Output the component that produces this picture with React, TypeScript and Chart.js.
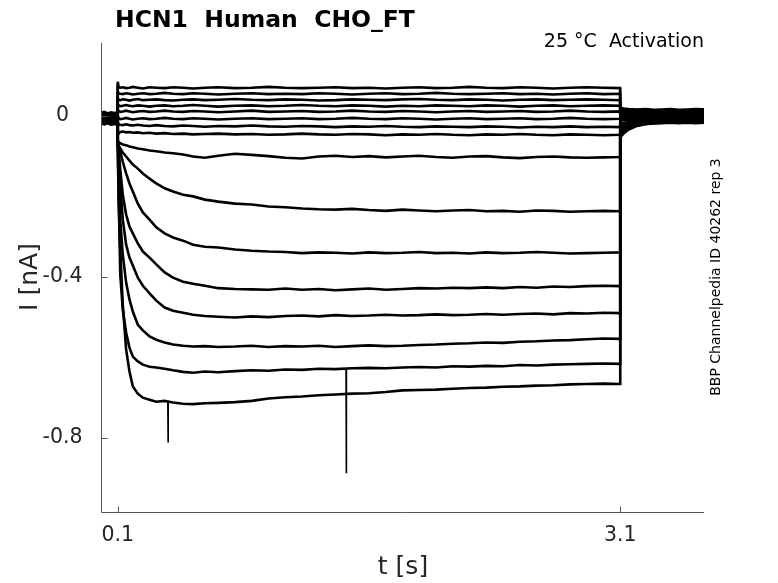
import React, { useEffect, useRef } from 'react';
import { Chart, registerables } from 'chart.js';
Chart.register(...registerables);

// ---- axes ----
const X_MIN = 0;
const X_MAX = 3.6;
const Y_MIN = -0.984;
const Y_MAX = 0.181;
const X_TICKS = [0.1, 3.1];
const X_TICK_LABELS = ['0.1', '3.1'];
const Y_TICKS = [-0.8, -0.4, 0];
const Y_TICK_LABELS = ['-0.8', '-0.4', '0'];

const TITLE = 'HCN1  Human  CHO_FT';
const SUBTITLE = '25 \u00B0C  Activation';
const SIDE_NOTE = 'BBP Channelpedia ID 40262 rep 3';
const X_LABEL = 't [s]';
const Y_LABEL = 'I [nA]';

// ---- time bases (s) ----
const T_PRE = [0, 0.02, 0.04, 0.06, 0.08, 0.099];
const T_STEP = [
  0.1, 0.105, 0.115, 0.13, 0.15, 0.17, 0.19, 0.22, 0.25, 0.29,
  0.33, 0.38, 0.43, 0.49, 0.55, 0.62, 0.7, 0.8, 0.9, 1.0,
  1.1, 1.2, 1.3, 1.4, 1.5, 1.6, 1.7, 1.8, 1.9, 2.0,
  2.1, 2.2, 2.3, 2.4, 2.5, 2.6, 2.7, 2.8, 2.9, 3.0,
  3.099,
];
const T_TAIL = [3.1, 3.12, 3.15, 3.2, 3.25, 3.3, 3.35, 3.4, 3.45, 3.5, 3.55, 3.6];

// ---- current traces (nA) ----
const U1_PRE = [0.008, 0.010, 0.006, 0.009, 0.007, 0.008];
const U1_STEP = [
  0.085, 0.072, 0.070, 0.071, 0.069, 0.070, 0.072, 0.070, 0.068, 0.071,
  0.070, 0.069, 0.071, 0.070, 0.068, 0.070, 0.071, 0.069, 0.070, 0.072,
  0.070, 0.069, 0.070, 0.071, 0.069, 0.070, 0.068, 0.070, 0.071, 0.069,
  0.070, 0.072, 0.070, 0.069, 0.071, 0.070, 0.068, 0.070, 0.071, 0.070,
  0.069,
];
const U1_TAIL = [0.020, 0.018, 0.017, 0.016, 0.017, 0.015, 0.016, 0.017, 0.015, 0.016, 0.017, 0.016];

const U2_PRE = [0.004, 0.006, 0.003, 0.005, 0.004, 0.005];
const U2_STEP = [
  0.062, 0.056, 0.055, 0.054, 0.056, 0.055, 0.053, 0.055, 0.056, 0.054,
  0.055, 0.057, 0.055, 0.054, 0.056, 0.055, 0.053, 0.055, 0.056, 0.054,
  0.055, 0.054, 0.056, 0.055, 0.053, 0.055, 0.056, 0.054, 0.055, 0.057,
  0.055, 0.054, 0.055, 0.056, 0.054, 0.055, 0.053, 0.055, 0.056, 0.054,
  0.055,
];
const U2_TAIL = [0.016, 0.014, 0.013, 0.012, 0.013, 0.012, 0.011, 0.012, 0.013, 0.011, 0.012, 0.012];

const U3_PRE = [0.002, 0.000, 0.003, 0.001, 0.002, 0.001];
const U3_STEP = [
  0.045, 0.040, 0.039, 0.041, 0.040, 0.038, 0.040, 0.042, 0.039, 0.040,
  0.041, 0.039, 0.038, 0.040, 0.041, 0.039, 0.040, 0.042, 0.040, 0.039,
  0.041, 0.040, 0.038, 0.039, 0.041, 0.040, 0.039, 0.041, 0.042, 0.040,
  0.039, 0.041, 0.040, 0.038, 0.040, 0.041, 0.039, 0.040, 0.041, 0.040,
  0.039,
];
const U3_TAIL = [0.012, 0.010, 0.009, 0.009, 0.008, 0.009, 0.008, 0.007, 0.009, 0.008, 0.008, 0.009];

const U4_PRE = [-0.002, 0.000, -0.003, -0.001, -0.002, -0.001];
const U4_STEP = [
  0.030, 0.026, 0.024, 0.025, 0.027, 0.025, 0.024, 0.026, 0.025, 0.023,
  0.025, 0.026, 0.024, 0.025, 0.027, 0.025, 0.023, 0.025, 0.026, 0.024,
  0.025, 0.027, 0.025, 0.024, 0.026, 0.025, 0.023, 0.025, 0.024, 0.026,
  0.025, 0.024, 0.026, 0.025, 0.023, 0.025, 0.026, 0.024, 0.025, 0.026,
  0.025,
];
const U4_TAIL = [0.008, 0.007, 0.006, 0.005, 0.006, 0.004, 0.005, 0.006, 0.004, 0.005, 0.004, 0.005];

const U5_PRE = [-0.004, -0.006, -0.003, -0.005, -0.004, -0.005];
const U5_STEP = [
  0.016, 0.012, 0.010, 0.011, 0.013, 0.011, 0.009, 0.011, 0.012, 0.010,
  0.011, 0.013, 0.011, 0.010, 0.012, 0.011, 0.009, 0.011, 0.013, 0.010,
  0.011, 0.012, 0.010, 0.011, 0.013, 0.011, 0.010, 0.012, 0.011, 0.009,
  0.011, 0.012, 0.010, 0.011, 0.012, 0.010, 0.011, 0.013, 0.011, 0.010,
  0.011,
];
const U5_TAIL = [0.004, 0.003, 0.002, 0.002, 0.001, 0.002, 0.001, 0.002, 0.000, 0.001, 0.002, 0.001];

const U6_PRE = [-0.007, -0.005, -0.008, -0.006, -0.007, -0.006];
const U6_STEP = [
  0.000, -0.006, -0.008, -0.007, -0.005, -0.007, -0.009, -0.007, -0.006, -0.008,
  -0.007, -0.005, -0.007, -0.008, -0.006, -0.007, -0.009, -0.007, -0.006, -0.008,
  -0.007, -0.006, -0.008, -0.007, -0.005, -0.007, -0.008, -0.006, -0.007, -0.009,
  -0.007, -0.006, -0.008, -0.007, -0.006, -0.008, -0.007, -0.005, -0.007, -0.008,
  -0.007,
];
const U6_TAIL = [0.000, -0.001, -0.002, -0.002, -0.001, -0.002, -0.003, -0.002, -0.001, -0.002, -0.003, -0.002];

const U7_PRE = [-0.010, -0.012, -0.009, -0.011, -0.010, -0.011];
const U7_STEP = [
  -0.015, -0.021, -0.022, -0.023, -0.021, -0.023, -0.024, -0.022, -0.024, -0.025,
  -0.023, -0.025, -0.026, -0.024, -0.025, -0.027, -0.025, -0.026, -0.024, -0.026,
  -0.027, -0.025, -0.026, -0.028, -0.026, -0.027, -0.025, -0.027, -0.028, -0.026,
  -0.027, -0.028, -0.026, -0.027, -0.029, -0.027, -0.028, -0.026, -0.028, -0.027,
  -0.028,
];
const U7_TAIL = [-0.006, -0.006, -0.005, -0.005, -0.006, -0.004, -0.005, -0.006, -0.004, -0.005, -0.006, -0.005];

const U8_PRE = [-0.012, -0.014, -0.011, -0.013, -0.015, -0.013];
const U8_STEP = [
  -0.040, -0.044, -0.040, -0.039, -0.041, -0.040, -0.042, -0.041, -0.043, -0.042,
  -0.044, -0.043, -0.045, -0.044, -0.046, -0.045, -0.044, -0.046, -0.045, -0.047,
  -0.046, -0.044, -0.046, -0.047, -0.045, -0.046, -0.048, -0.046, -0.047, -0.045,
  -0.047, -0.048, -0.046, -0.047, -0.045, -0.047, -0.048, -0.046, -0.047, -0.048,
  -0.047,
];
const U8_TAIL = [-0.012, -0.011, -0.010, -0.009, -0.008, -0.009, -0.008, -0.007, -0.008, -0.007, -0.008, -0.008];

const L1_PRE = [-0.014, -0.016, -0.013, -0.017, -0.015, -0.016];
const L1_STEP = [
  -0.060, -0.066, -0.068, -0.071, -0.073, -0.076, -0.078, -0.081, -0.083, -0.086,
  -0.088, -0.091, -0.093, -0.096, -0.101, -0.104, -0.099, -0.094, -0.097, -0.100,
  -0.104, -0.106, -0.101, -0.099, -0.102, -0.100, -0.103, -0.101, -0.099, -0.102,
  -0.104, -0.101, -0.100, -0.103, -0.105, -0.102, -0.101, -0.103, -0.104, -0.103,
  -0.102,
];
const L1_TAIL = [-0.020, -0.018, -0.015, -0.013, -0.011, -0.010, -0.011, -0.009, -0.010, -0.009, -0.010, -0.009];

const L2_PRE = [-0.016, -0.018, -0.015, -0.019, -0.017, -0.018];
const L2_STEP = [
  -0.062, -0.074, -0.081, -0.091, -0.101, -0.111, -0.121, -0.131, -0.143, -0.156,
  -0.168, -0.180, -0.188, -0.196, -0.200, -0.208, -0.213, -0.218, -0.220, -0.225,
  -0.227, -0.230, -0.232, -0.233, -0.231, -0.234, -0.236, -0.233, -0.235, -0.237,
  -0.235, -0.234, -0.237, -0.236, -0.238, -0.235, -0.236, -0.238, -0.237, -0.236,
  -0.237,
];
const L2_TAIL = [-0.026, -0.023, -0.019, -0.016, -0.013, -0.012, -0.011, -0.012, -0.010, -0.011, -0.012, -0.011];

const L3_PRE = [-0.018, -0.020, -0.017, -0.021, -0.019, -0.020];
const L3_STEP = [
  -0.063, -0.074, -0.089, -0.114, -0.143, -0.168, -0.188, -0.218, -0.240, -0.258,
  -0.277, -0.292, -0.302, -0.310, -0.320, -0.325, -0.327, -0.332, -0.335, -0.337,
  -0.338, -0.341, -0.339, -0.340, -0.342, -0.339, -0.341, -0.340, -0.338, -0.341,
  -0.340, -0.342, -0.339, -0.341, -0.340, -0.338, -0.340, -0.342, -0.341, -0.340,
  -0.339,
];
const L3_TAIL = [-0.032, -0.028, -0.023, -0.018, -0.015, -0.013, -0.014, -0.012, -0.013, -0.012, -0.013, -0.012];

const L4_PRE = [-0.019, -0.021, -0.018, -0.022, -0.020, -0.021];
const L4_STEP = [
  -0.064, -0.084, -0.133, -0.196, -0.245, -0.275, -0.292, -0.317, -0.337, -0.352,
  -0.369, -0.389, -0.402, -0.412, -0.417, -0.422, -0.428, -0.430, -0.431, -0.432,
  -0.429, -0.432, -0.430, -0.433, -0.431, -0.429, -0.432, -0.430, -0.428, -0.429,
  -0.427, -0.428, -0.426, -0.428, -0.425, -0.427, -0.424, -0.425, -0.423, -0.422,
  -0.423,
];
const L4_TAIL = [-0.037, -0.032, -0.026, -0.020, -0.017, -0.015, -0.014, -0.015, -0.013, -0.014, -0.013, -0.014];

const L5_PRE = [-0.005, -0.003, -0.006, -0.004, -0.005, -0.004];
const L5_STEP = [
  -0.065, -0.096, -0.170, -0.257, -0.320, -0.352, -0.372, -0.402, -0.422, -0.441,
  -0.459, -0.476, -0.484, -0.489, -0.494, -0.497, -0.499, -0.501, -0.498, -0.500,
  -0.497, -0.496, -0.498, -0.495, -0.497, -0.496, -0.494, -0.496, -0.495, -0.493,
  -0.495, -0.494, -0.492, -0.494, -0.492, -0.491, -0.493, -0.490, -0.491, -0.489,
  -0.490,
];
const L5_TAIL = [-0.041, -0.035, -0.028, -0.022, -0.018, -0.016, -0.015, -0.014, -0.015, -0.014, -0.015, -0.014];

const L6_PRE = [-0.008, -0.010, -0.007, -0.009, -0.008, -0.009];
const L6_STEP = [
  -0.066, -0.121, -0.258, -0.345, -0.414, -0.456, -0.486, -0.519, -0.533, -0.548,
  -0.556, -0.563, -0.568, -0.571, -0.573, -0.572, -0.574, -0.573, -0.571, -0.574,
  -0.572, -0.573, -0.571, -0.574, -0.572, -0.570, -0.572, -0.571, -0.569, -0.568,
  -0.566, -0.565, -0.563, -0.564, -0.561, -0.560, -0.558, -0.557, -0.555, -0.553,
  -0.554,
];
const L6_TAIL = [-0.045, -0.038, -0.030, -0.023, -0.019, -0.017, -0.016, -0.015, -0.016, -0.015, -0.016, -0.015];

const L7_PRE = [0.000, 0.002, -0.001, 0.001, 0.000, 0.001];
const L7_STEP = [
  -0.067, -0.183, -0.394, -0.481, -0.538, -0.576, -0.598, -0.610, -0.618, -0.623,
  -0.625, -0.628, -0.632, -0.636, -0.638, -0.635, -0.637, -0.634, -0.632, -0.633,
  -0.630, -0.631, -0.628, -0.629, -0.627, -0.626, -0.627, -0.625, -0.624, -0.625,
  -0.622, -0.623, -0.621, -0.622, -0.619, -0.620, -0.618, -0.617, -0.616, -0.615,
  -0.616,
];
const L7_TAIL = [-0.049, -0.041, -0.032, -0.024, -0.020, -0.018, -0.017, -0.016, -0.017, -0.016, -0.017, -0.016];

const L8_PRE = [-0.003, -0.001, -0.004, -0.002, -0.003, -0.002];
const L8_STEP = [
  -0.068, -0.210, -0.333, -0.469, -0.580, -0.635, -0.672, -0.690, -0.700, -0.705,
  -0.710, -0.708, -0.712, -0.715, -0.716, -0.714, -0.713, -0.711, -0.708, -0.702,
  -0.699, -0.697, -0.694, -0.692, -0.690, -0.689, -0.686, -0.682, -0.681, -0.680,
  -0.678, -0.676, -0.675, -0.673, -0.672, -0.670, -0.669, -0.667, -0.666, -0.665,
  -0.666,
];
const L8_TAIL = [-0.053, -0.044, -0.034, -0.025, -0.021, -0.019, -0.018, -0.017, -0.018, -0.017, -0.018, -0.017];

// brief artefact spikes (thin in the recording)
const SPIKE_A_T = [0.398, 0.4, 0.402];
const SPIKE_A_I = [-0.709, -0.81, -0.709];
const SPIKE_B_T = [1.462, 1.464, 1.466];
const SPIKE_B_I = [-0.628, -0.886, -0.628];

const TRACES = [
  { pre: U1_PRE, step: U1_STEP, tail: U1_TAIL },
  { pre: U2_PRE, step: U2_STEP, tail: U2_TAIL },
  { pre: U3_PRE, step: U3_STEP, tail: U3_TAIL },
  { pre: U4_PRE, step: U4_STEP, tail: U4_TAIL },
  { pre: U5_PRE, step: U5_STEP, tail: U5_TAIL },
  { pre: U6_PRE, step: U6_STEP, tail: U6_TAIL },
  { pre: U7_PRE, step: U7_STEP, tail: U7_TAIL },
  { pre: U8_PRE, step: U8_STEP, tail: U8_TAIL },
  { pre: L1_PRE, step: L1_STEP, tail: L1_TAIL },
  { pre: L2_PRE, step: L2_STEP, tail: L2_TAIL },
  { pre: L3_PRE, step: L3_STEP, tail: L3_TAIL },
  { pre: L4_PRE, step: L4_STEP, tail: L4_TAIL },
  { pre: L5_PRE, step: L5_STEP, tail: L5_TAIL },
  { pre: L6_PRE, step: L6_STEP, tail: L6_TAIL },
  { pre: L7_PRE, step: L7_STEP, tail: L7_TAIL },
  { pre: L8_PRE, step: L8_STEP, tail: L8_TAIL },
];
const SPIKES = [
  { t: SPIKE_A_T, i: SPIKE_A_I },
  { t: SPIKE_B_T, i: SPIKE_B_I },
];

const FONT = "'DejaVu Sans', sans-serif";
const TEXT_COLOR = '#262626';
const AXIS_COLOR = '#555555';

function zip(ts: number[], vs: number[]) {
  const n = Math.min(ts.length, vs.length);
  const out: { x: number; y: number }[] = [];
  for (let i = 0; i < n; i++) out.push({ x: ts[i], y: vs[i] });
  return out;
}

function buildPoints(tr: any) {
  return [...zip(T_PRE, tr.pre), ...zip(T_STEP, tr.step), ...zip(T_TAIL, tr.tail)];
}

const decorPlugin = {
  id: 'decor',
  afterDraw(chart: any) {
    const { ctx, chartArea, scales } = chart;
    const xs = scales.x;
    const ys = scales.y;
    ctx.save();
    ctx.strokeStyle = AXIS_COLOR;
    ctx.lineWidth = 1;
    const lx = Math.round(chartArea.left) + 0.5;
    const by = Math.round(chartArea.bottom) + 0.5;
    ctx.beginPath();
    ctx.moveTo(lx, Math.round(chartArea.top));
    ctx.lineTo(lx, by);
    ctx.lineTo(Math.round(chartArea.right), by);
    for (const v of X_TICKS) {
      const px = Math.round(xs.getPixelForValue(v)) + 0.5;
      ctx.moveTo(px, by);
      ctx.lineTo(px, by - 6);
    }
    for (const v of Y_TICKS) {
      const py = Math.round(ys.getPixelForValue(v)) + 0.5;
      ctx.moveTo(lx, py);
      ctx.lineTo(lx + 6, py);
    }
    ctx.stroke();

    ctx.fillStyle = '#000';
    ctx.font = `bold 23.5px ${FONT}`;
    ctx.textAlign = 'left';
    ctx.textBaseline = 'alphabetic';
    ctx.fillText(TITLE, 115, 27);

    ctx.font = `19px ${FONT}`;
    ctx.textAlign = 'right';
    ctx.fillText(SUBTITLE, 704, 47);

    ctx.fillStyle = TEXT_COLOR;
    ctx.font = `25px ${FONT}`;
    ctx.textAlign = 'center';
    ctx.textBaseline = 'middle';
    ctx.fillText(X_LABEL, 403, 567);
    ctx.save();
    ctx.translate(30, 277);
    ctx.rotate(-Math.PI / 2);
    ctx.fillText(Y_LABEL, 0, 0);
    ctx.restore();

    ctx.fillStyle = '#000';
    ctx.font = `14px ${FONT}`;
    ctx.save();
    ctx.translate(716, 277);
    ctx.rotate(-Math.PI / 2);
    ctx.fillText(SIDE_NOTE, 0, 0);
    ctx.restore();
    ctx.restore();
  },
};

export default function App() {
  const ref = useRef<HTMLCanvasElement | null>(null);
  useEffect(() => {
    if (!ref.current) return;
    const datasets: any[] = TRACES.map((tr) => ({
      data: buildPoints(tr),
      borderColor: '#000000',
      borderWidth: 2.6,
      pointRadius: 0,
      tension: 0,
      fill: false,
    }));
    for (const sp of SPIKES) {
      datasets.push({
        data: zip(sp.t, sp.i),
        borderColor: '#000000',
        borderWidth: 1.3,
        pointRadius: 0,
        tension: 0,
        fill: false,
      });
    }
    const chart = new Chart(ref.current, {
      type: 'line',
      data: { datasets },
      options: {
        animation: false,
        responsive: true,
        maintainAspectRatio: false,
        parsing: false,
        normalized: true,
        layout: { padding: { top: 43, right: 74, bottom: 0, left: 0 } },
        plugins: {
          legend: { display: false },
          tooltip: { enabled: false },
          title: { display: false },
        },
        scales: {
          x: {
            type: 'linear',
            min: X_MIN,
            max: X_MAX,
            grid: { display: false, drawTicks: false },
            border: { display: false },
            afterBuildTicks: (s: any) => {
              s.ticks = X_TICKS.map((v) => ({ value: v }));
            },
            afterFit: (s: any) => {
              s.height = 71;
            },
            ticks: {
              padding: 11,
              autoSkip: false,
              maxRotation: 0,
              color: TEXT_COLOR,
              font: { family: FONT, size: 20.5 },
              callback: (_v: any, i: number) => X_TICK_LABELS[i],
            },
          },
          y: {
            type: 'linear',
            min: Y_MIN,
            max: Y_MAX,
            grid: { display: false, drawTicks: false },
            border: { display: false },
            afterBuildTicks: (s: any) => {
              s.ticks = Y_TICKS.map((v) => ({ value: v }));
            },
            afterFit: (s: any) => {
              s.width = 101;
            },
            ticks: {
              padding: 18.5,
              crossAlign: 'center',
              autoSkip: false,
              color: TEXT_COLOR,
              font: { family: FONT, size: 20.5 },
              callback: (_v: any, i: number) => Y_TICK_LABELS[i],
            },
          },
        },
      } as any,
      plugins: [decorPlugin],
    });
    return () => chart.destroy();
  }, []);
  return (
    <div style={{ position: 'fixed', left: 0, top: 0, width: 778, height: 583, background: '#fff' }}>
      <canvas ref={ref} />
    </div>
  );
}
